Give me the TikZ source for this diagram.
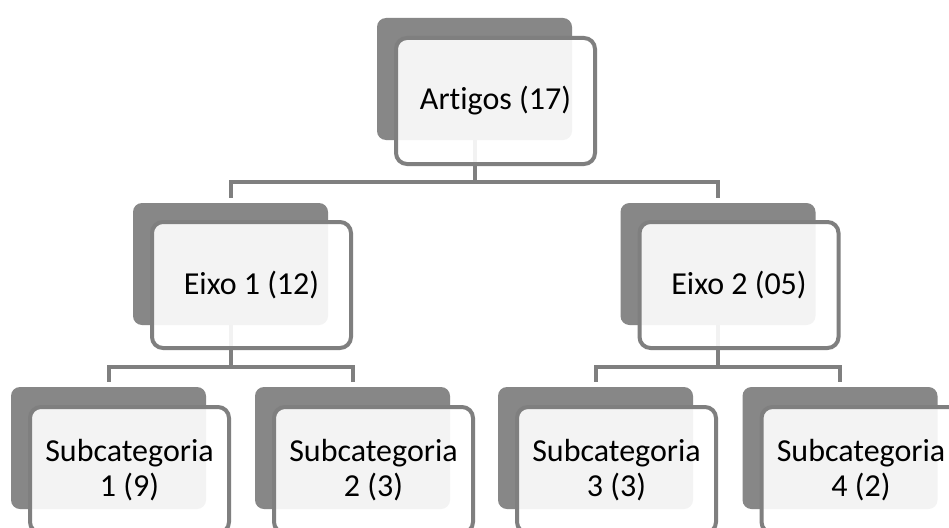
\documentclass[tikz,border=0pt]{standalone}
\usepackage{fontspec}
\setmainfont[Ligatures=NoCommon]{Carlito}
\usetikzlibrary{calc}
\definecolor{backgray}{HTML}{878787}
\definecolor{linegray}{HTML}{7F7F7F}
\begin{document}
\begin{tikzpicture}[x=1pt,y=-1pt,
  backbox/.style={draw=none,fill=backgray,rounded corners=9pt,minimum width=195pt,minimum height=122pt,inner sep=0pt},
  frontbox/.style={draw=linegray,line width=4pt,fill=white,fill opacity=0.9,text opacity=1,rounded corners=11pt,minimum width=199pt,minimum height=126pt,inner sep=0pt,align=center,font=\fontsize{32}{35}\selectfont},
  conn/.style={draw=linegray,line width=4pt,shorten >=5pt}]
\clip (0,0) rectangle (949,527);
\fill[white] (0,0) rectangle (949,527);
% back boxes
\node[backbox] (art-b) at (474.5,79) {};
\node[backbox] (e1-b) at (230.5,264) {};
\node[backbox] (e2-b) at (718,264) {};
\node[backbox] (s1-b) at (108.5,448) {};
\node[backbox] (s2-b) at (352.5,448) {};
\node[backbox] (s3-b) at (595.5,448) {};
\node[backbox] (s4-b) at (840,448) {};
% connectors
\draw[conn] (art-b.south) -- ++(0,42) -| (e1-b.north);
\draw[conn] (art-b.south) -- ++(0,42) -| (e2-b.north);
\draw[conn] (e1-b.south) -- ++(0,42) -| (s1-b.north);
\draw[conn] (e1-b.south) -- ++(0,42) -| (s2-b.north);
\draw[conn] (e2-b.south) -- ++(0,42) -| (s3-b.north);
\draw[conn] (e2-b.south) -- ++(0,42) -| (s4-b.north);
% front boxes
\node[frontbox] (art) at ($(art-b.center)+(21,22)$) {Artigos (17)};
\node[frontbox] (e1) at ($(e1-b.center)+(21,21)$) {Eixo 1 (12)};
\node[frontbox] (e2) at ($(e2-b.center)+(21,21)$) {Eixo 2 (05)};
\node[frontbox] (s1) at ($(s1-b.center)+(21,22)$) {Subcategoria\\1 (9)};
\node[frontbox] (s2) at ($(s2-b.center)+(21,22)$) {Subcategoria\\2 (3)};
\node[frontbox] (s3) at ($(s3-b.center)+(21,22)$) {Subcategoria\\3 (3)};
\node[frontbox] (s4) at ($(s4-b.center)+(21,22)$) {Subcategoria\\4 (2)};
\end{tikzpicture}
\end{document}
